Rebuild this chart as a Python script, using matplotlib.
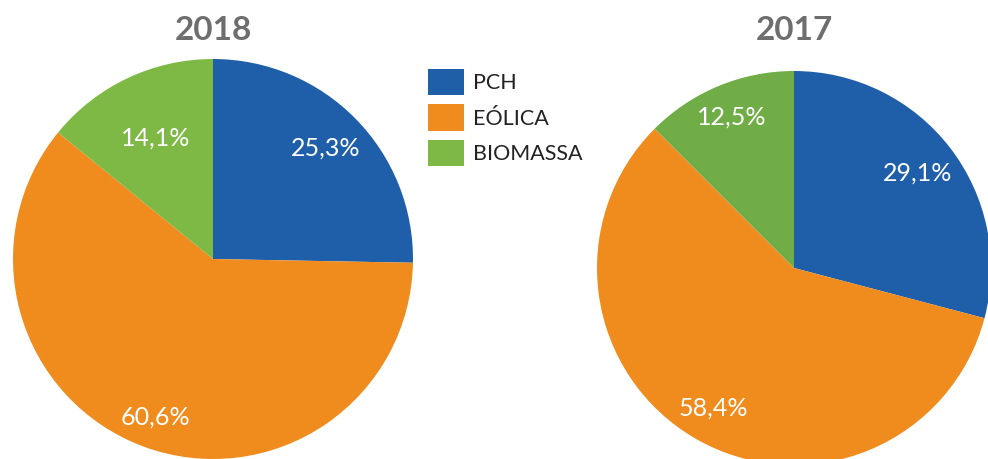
import matplotlib
matplotlib.use("Agg")
import matplotlib.pyplot as plt
import numpy as np

categories = ["PCH", "EÓLICA", "BIOMASSA"]
years = ["2018", "2017"]
values_2018 = [25.3, 60.6, 14.1]
values_2017 = [29.1, 58.4, 12.5]
labels_2018 = ["25,3%", "60,6%", "14,1%"]
labels_2017 = ["29,1%", "58,4%", "12,5%"]

colors_2018 = ["#1F5FAA", "#F08C1E", "#7DB944"]
colors_2017 = ["#1F5FAA", "#F08C1E", "#70AD47"]
label_dist_2018 = [0.79, 0.84, 0.67]
label_dist_2017 = [0.79, 0.82, 0.83]

W, H = 988, 459
fig = plt.figure(figsize=(W / 100, H / 100), dpi=100)
plt.rcParams['font.family'] = ['Lato', 'DejaVu Sans']


def draw(rect, vals, labels, cols, dists):
    ax = fig.add_axes(rect)
    wedges, _ = ax.pie(vals, colors=cols, startangle=90, counterclock=False,
                       radius=1.0, wedgeprops=dict(linewidth=0))
    total = sum(vals)
    cum = 0
    for v, lab, d in zip(vals, labels, dists):
        mid = 90 - (cum + v / 2) / total * 360
        cum += v
        ang = np.deg2rad(mid)
        ax.text(d * np.cos(ang), d * np.sin(ang), lab, color="white",
                fontsize=18, ha="center", va="center")
    ax.set_xlim(-1, 1)
    ax.set_ylim(-1, 1)
    ax.set_aspect("equal")
    ax.axis("off")
    return wedges


# left pie: center (213,259), r=200
w1 = draw([13 / W, 0 / H, 400 / W, 400 / H], values_2018, labels_2018, colors_2018, label_dist_2018)
# right pie: center (794,268), r=197
w2 = draw([597 / W, -6 / H, 394 / W, 394 / H], values_2017, labels_2017, colors_2017, label_dist_2017)

fig.text(213 / W, 1 - 30 / H, years[0], fontsize=24, fontweight="bold",
         color="#6E6E6E", ha="center", va="center")
fig.text(794 / W, 1 - 30 / H, years[1], fontsize=24, fontweight="bold",
         color="#6E6E6E", ha="center", va="center")

leg = fig.legend(w1, categories, loc="upper left",
                 bbox_to_anchor=(428 / W, 1 - 69 / H), frameon=False,
                 fontsize=15.5, handlelength=1.65, handleheight=1.5,
                 labelspacing=0.42, handletextpad=0.45, borderpad=0,
                 borderaxespad=0)
for t in leg.get_texts():
    t.set_color("#222222")

fig.savefig("out.png", dpi=100)
